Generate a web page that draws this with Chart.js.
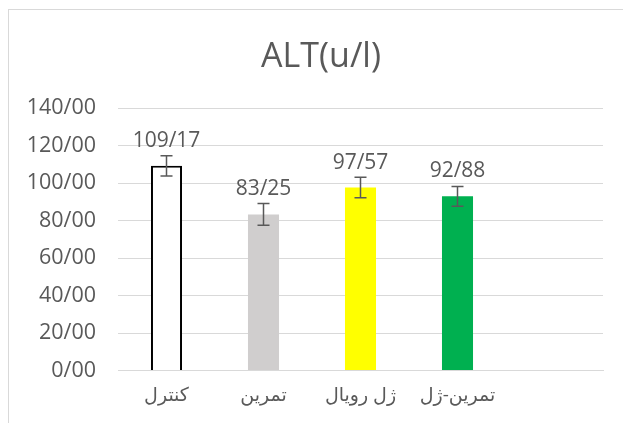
<!DOCTYPE html>
<html>
<head>
<meta charset="utf-8">
<script src="https://cdn.jsdelivr.net/npm/chart.js@4.4.1/dist/chart.umd.min.js"></script>
<style>
  html, body { margin: 0; padding: 0; background: #ffffff; }
  #wrap { width: 623px; height: 423px; position: relative; }
</style>
</head>
<body>
<div id="wrap"><canvas id="c" width="623" height="423"></canvas></div>
<script>
// ---- data ----
const chartTitle = 'ALT(u/l)';
const categories = ['کنترل', 'تمرین', 'ژل رویال', 'تمرین-ژل', ''];
const values = [109.17, 83.25, 97.57, 92.88, null];
const errors = [5.4, 5.8, 5.5, 5.3, null];
const barColors = ['#ffffff', '#d0cece', '#ffff00', '#00b050', '#ffffff'];
const barBorders = ['#000000', '#d0cece', '#ffff00', '#00b050', '#ffffff'];
const barBorderWidths = [2, 0, 0, 0, 0];
const yMin = 0, yMax = 140, yStep = 20;

const FONT = "'Open Sans', 'DejaVu Sans', sans-serif";
const TXT = '#595959';
const GRID = '#d9d9d9';

function fmt(v) { return v.toFixed(2).replace('.', '/'); }

const framePlugin = {
  id: 'frame',
  beforeDraw(chart) {
    const ctx = chart.ctx;
    ctx.save();
    ctx.fillStyle = '#ffffff';
    ctx.fillRect(0, 0, chart.width, chart.height);
    ctx.strokeStyle = GRID;
    ctx.lineWidth = 1;
    ctx.strokeRect(8.5, 9.5, 700, 500);
    // title
    ctx.fillStyle = TXT;
    ctx.font = '34px ' + FONT;
    ctx.textAlign = 'center';
    ctx.textBaseline = 'alphabetic';
    ctx.fillText(chartTitle, 321, 67);
    ctx.restore();
  }
};

const errLabelPlugin = {
  id: 'errLabels',
  afterDatasetsDraw(chart) {
    const ctx = chart.ctx;
    const meta = chart.getDatasetMeta(0);
    const ys = chart.scales.y;
    ctx.save();
    ctx.strokeStyle = TXT;
    ctx.lineWidth = 1.5;
    meta.data.forEach((bar, i) => {
      const v = values[i], e = errors[i];
      if (v == null) return;
      const x = bar.x;
      if (e != null) {
        const yt = ys.getPixelForValue(v + e);
        const yb = ys.getPixelForValue(v - e);
        ctx.beginPath();
        ctx.moveTo(x, yt); ctx.lineTo(x, yb);
        ctx.moveTo(x - 6, yt); ctx.lineTo(x + 6, yt);
        ctx.moveTo(x - 6, yb); ctx.lineTo(x + 6, yb);
        ctx.stroke();
      }
    });
    ctx.fillStyle = TXT;
    ctx.font = '21px ' + FONT;
    ctx.textAlign = 'center';
    ctx.textBaseline = 'middle';
    meta.data.forEach((bar, i) => {
      const v = values[i];
      if (v == null) return;
      ctx.fillText(fmt(v), bar.x, ys.getPixelForValue(v) - 25);
    });
    ctx.restore();
  }
};

new Chart(document.getElementById('c'), {
  type: 'bar',
  data: {
    labels: categories,
    datasets: [{
      data: values,
      backgroundColor: barColors,
      borderColor: barBorders,
      borderWidth: barBorderWidths,
      barPercentage: 0.32,
      categoryPercentage: 1.0
    }]
  },
  options: {
    responsive: false,
    animation: false,
    devicePixelRatio: 1,
    layout: { padding: { left: 8, right: 20, top: 108, bottom: 10 } },
    plugins: { legend: { display: false }, title: { display: false }, tooltip: { enabled: false } },
    scales: {
      y: {
        min: yMin, max: yMax,
        ticks: { stepSize: yStep, color: TXT, font: { family: FONT, size: 21.5 }, padding: 22,
                 callback: (v) => fmt(v) },
        grid: { color: GRID, lineWidth: 1, drawTicks: false },
        border: { display: false },
        afterFit(s) { s.width = 110; }
      },
      x: {
        ticks: { color: TXT, font: { family: FONT, size: 19 }, padding: 14, maxRotation: 0, autoSkip: false },
        grid: { display: false, drawTicks: false },
        border: { display: true, color: GRID, width: 1 },
        afterFit(s) { s.height = 42.5; }
      }
    }
  },
  plugins: [framePlugin, errLabelPlugin]
});
</script>
</body>
</html>
